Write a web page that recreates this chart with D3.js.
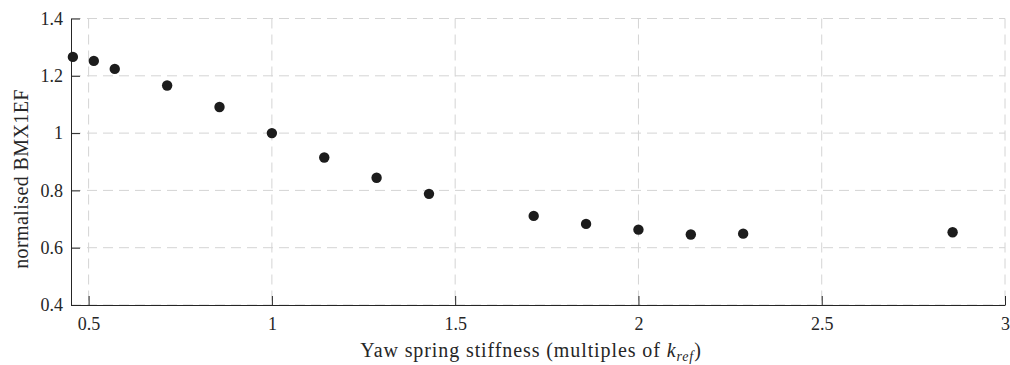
<!DOCTYPE html>
<html>
<head>
<meta charset="utf-8">
<script src="https://cdn.jsdelivr.net/npm/d3@7"></script>
<style>
  body { margin: 0; background: #fff; }
  text { font-family: "Liberation Serif", "DejaVu Serif", serif; fill: #262626; }
</style>
</head>
<body>
<div id="chart"></div>
<script>
// stiffness multiples of k_ref
const stiffness = [0.4571, 0.5143, 0.5714, 0.7143, 0.8571, 1.0, 1.1429, 1.2857, 1.4286,
                   1.7143, 1.8571, 2.0, 2.1429, 2.2857, 2.8571];
const bmx1ef    = [1.266, 1.252, 1.224, 1.166, 1.091, 1.0, 0.915, 0.844, 0.788,
                   0.711, 0.683, 0.663, 0.646, 0.649, 0.654];
const xTicks = [0.5, 1, 1.5, 2, 2.5, 3];
const yTicks = [0.4, 0.6, 0.8, 1, 1.2, 1.4];

const margin = {top: 18.5, right: 5, bottom: 60, left: 71};
const W = 1010 - margin.left - margin.right;
const H = 365 - margin.top - margin.bottom;

const svg = d3.select("#chart").append("svg")
  .attr("width", 1010).attr("height", 365);
const g = svg.append("g").attr("transform", `translate(${margin.left},${margin.top})`);

const x = d3.scaleLinear().domain([0.452, 3]).range([0, W]);
const y = d3.scaleLinear().domain([0.4, 1.4]).range([H, 0]);

// grid
g.append("g").selectAll("line").data(xTicks).join("line")
  .attr("x1", d => x(d)).attr("x2", d => x(d)).attr("y1", 0).attr("y2", H)
  .attr("stroke", "#d4d4d4").attr("stroke-dasharray", "10 6");
g.append("g").selectAll("line").data(yTicks).join("line")
  .attr("x1", 0).attr("x2", W).attr("y1", d => y(d)).attr("y2", d => y(d))
  .attr("stroke", "#d4d4d4").attr("stroke-dasharray", "10 6");

// axes, ticks pointing inward
const xAxis = g.append("g").attr("transform", `translate(0,${H})`)
  .call(d3.axisBottom(x).tickValues(xTicks).tickSizeInner(-9).tickSizeOuter(0)
        .tickPadding(12).tickFormat(d3.format("")));
const yAxis = g.append("g")
  .call(d3.axisLeft(y).tickValues(yTicks).tickSizeInner(-9).tickSizeOuter(0)
        .tickPadding(8).tickFormat(d3.format("")));
[xAxis, yAxis].forEach(a => {
  a.select(".domain").attr("stroke", "#262626");
  a.selectAll(".tick line").attr("stroke", "#262626");
  a.selectAll(".tick text").attr("font-size", 18).attr("fill", "#262626")
    .attr("font-family", "'Liberation Serif', serif");
});

// points
g.append("g").selectAll("circle").data(stiffness).join("circle")
  .attr("cx", d => x(d))
  .attr("cy", (d, i) => y(bmx1ef[i]))
  .attr("r", 5.2)
  .attr("fill", "#1c1c1c");

// axis labels
const xl = svg.append("text")
  .attr("x", 531).attr("y", 357)
  .attr("text-anchor", "middle").attr("font-size", 20)
  .attr("letter-spacing", 0.9);
xl.append("tspan").text("Yaw spring stiffness (multiples of ");
xl.append("tspan").attr("font-style", "italic").text("k");
xl.append("tspan").attr("font-style", "italic").attr("font-size", 14).attr("dy", 4).text("ref");
xl.append("tspan").attr("dy", -4).text(")");

svg.append("text")
  .attr("transform", `translate(28,179) rotate(-90)`)
  .attr("text-anchor", "middle").attr("font-size", 20)
  .attr("letter-spacing", 0.4)
  .text("normalised BMX1EF");
</script>
</body>
</html>
